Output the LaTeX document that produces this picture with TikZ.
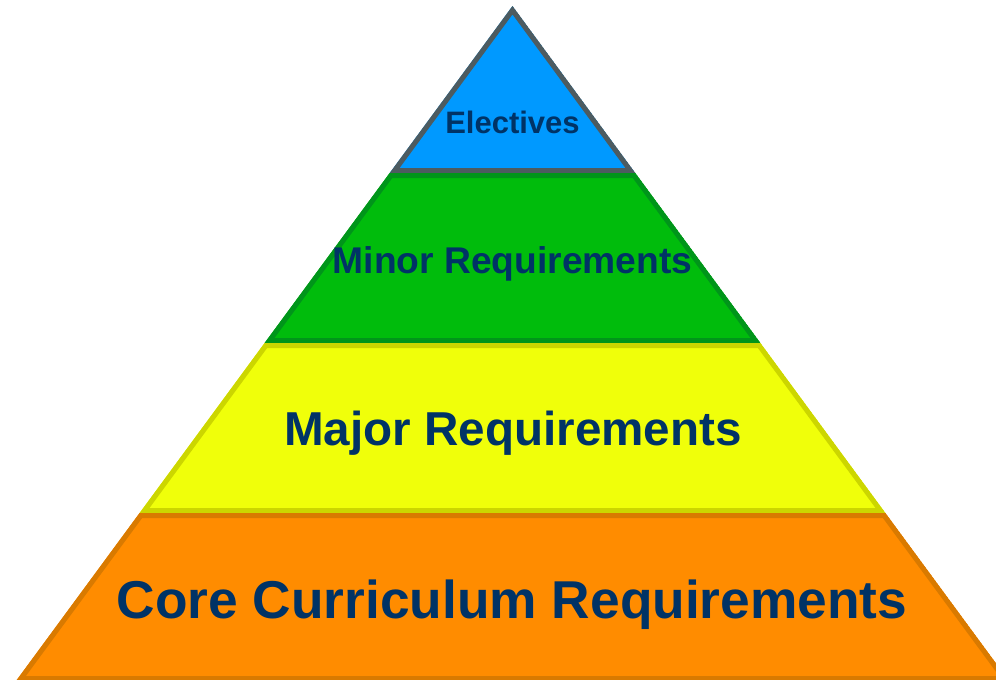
\documentclass[tikz,border=0pt]{standalone}
\usepackage{fontspec}
\setmainfont{Liberation Sans}
\definecolor{eFill}{HTML}{0099FF}
\definecolor{eLine}{HTML}{4D5B60}
\definecolor{mFill}{HTML}{00BC0C}
\definecolor{mLine}{HTML}{00951A}
\definecolor{jFill}{HTML}{F0FF0A}
\definecolor{jLine}{HTML}{CCD600}
\definecolor{cFill}{HTML}{FF8C00}
\definecolor{cLine}{HTML}{D97A00}
\definecolor{txt}{HTML}{003366}
\tikzset{
  lbl/.style={anchor=base, text=txt, font=\bfseries, inner sep=0pt},
}
\newcommand{\pyrlayer}[3]{%
  \begin{scope}
    \clip #1;
    \fill[#2] #1;
    \draw[#3, line width=10pt, line join=miter] #1;
  \end{scope}}
\begin{document}
\begin{tikzpicture}[x=1pt,y=-1pt]
\useasboundingbox (0,0) rectangle (996,680);
\pyrlayer{(512.5,6) -- (635.3,173) -- (389.7,173) -- cycle}{eFill}{eLine}
\pyrlayer{(389.7,173) -- (635.3,173) -- (760.4,343) -- (264.6,343) -- cycle}{mFill}{mLine}
\pyrlayer{(264.6,343) -- (760.4,343) -- (885.4,513) -- (139.6,513) -- cycle}{jFill}{jLine}
\pyrlayer{(139.6,513) -- (885.4,513) -- (1009,681) -- (16,681) -- cycle}{cFill}{cLine}
\node[lbl, font=\bfseries\fontsize{31}{37}\selectfont] (elec) at (512.5,133) {Electives};
\node[lbl, font=\bfseries\fontsize{37.2}{44}\selectfont] (minor) at (512.5,273) {Minor Requirements};
\node[lbl, font=\bfseries\fontsize{47.6}{56}\selectfont] (major) at (513,445) {Major Requirements};
\node[lbl, font=\bfseries\fontsize{53.3}{64}\selectfont] (core) at (512,618) {Core Curriculum Requirements};
\end{tikzpicture}
\end{document}
